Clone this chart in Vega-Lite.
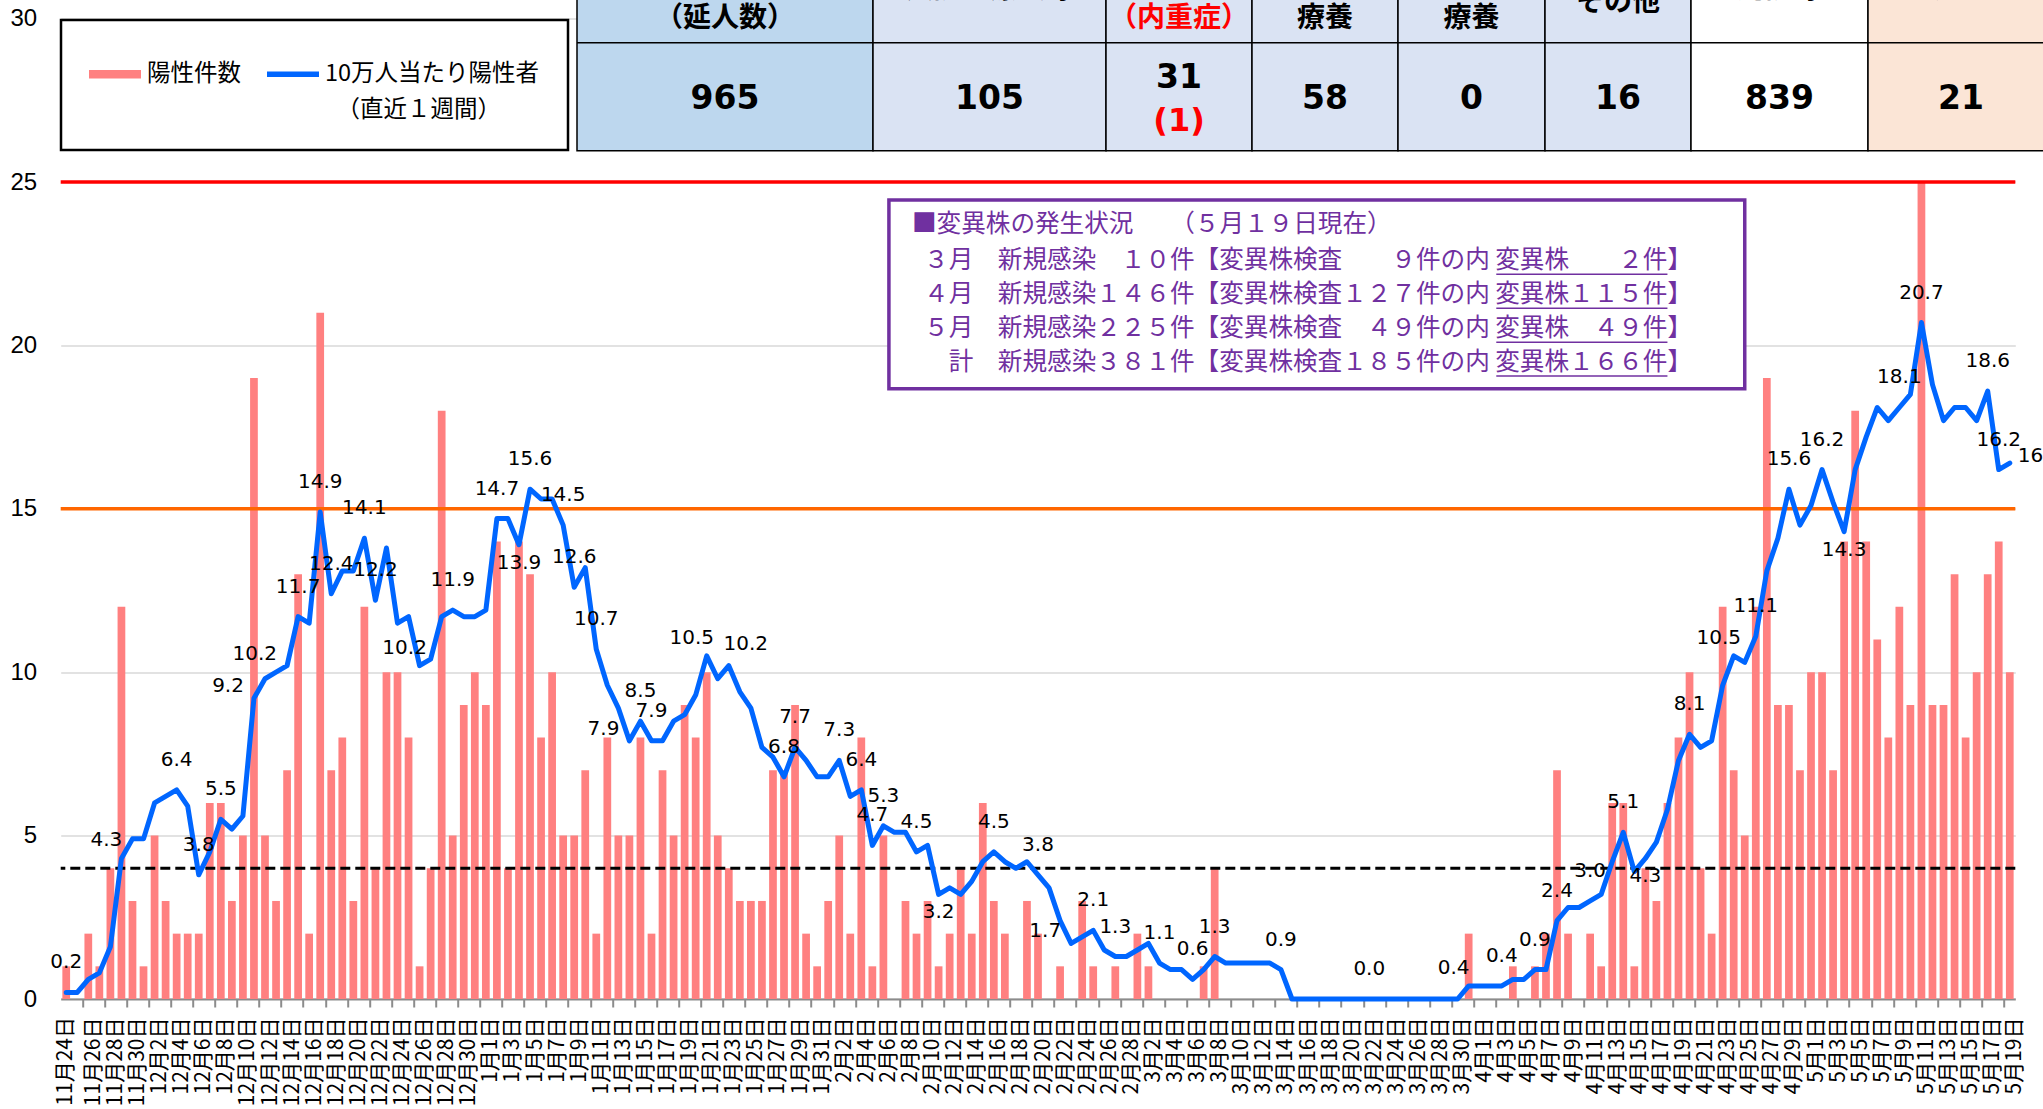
{
  "$schema": "https://vega.github.io/schema/vega-lite/v6.json",
  "width": 1954.6,
  "height": 980.4,
  "autosize": {"type": "none"},
  "padding": {"left": 60.7, "top": 18.6, "right": 27.7, "bottom": 110},
  "background": "white",
  "config": {"view": {"stroke": null}},
  "datasets": {
    "daily": [
      {"date": "11月24日", "positives": 1, "per100k": 0.2, "label": "0.2"},
      {"date": "11月25日", "positives": 0, "per100k": 0.2},
      {"date": "11月26日", "positives": 2, "per100k": 0.6},
      {"date": "11月27日", "positives": 1, "per100k": 0.8},
      {"date": "11月28日", "positives": 4, "per100k": 1.6},
      {"date": "11月29日", "positives": 12, "per100k": 4.3, "label": "4.3"},
      {"date": "11月30日", "positives": 3, "per100k": 4.9},
      {"date": "12月1日", "positives": 1, "per100k": 4.9},
      {"date": "12月2日", "positives": 5, "per100k": 6.0},
      {"date": "12月3日", "positives": 3, "per100k": 6.2},
      {"date": "12月4日", "positives": 2, "per100k": 6.4, "label": "6.4"},
      {"date": "12月5日", "positives": 2, "per100k": 5.9},
      {"date": "12月6日", "positives": 2, "per100k": 3.8, "label": "3.8"},
      {"date": "12月7日", "positives": 6, "per100k": 4.5},
      {"date": "12月8日", "positives": 6, "per100k": 5.5, "label": "5.5"},
      {"date": "12月9日", "positives": 3, "per100k": 5.2},
      {"date": "12月10日", "positives": 5, "per100k": 5.6},
      {"date": "12月11日", "positives": 19, "per100k": 9.2, "label": "9.2"},
      {"date": "12月12日", "positives": 5, "per100k": 9.8},
      {"date": "12月13日", "positives": 3, "per100k": 10.0},
      {"date": "12月14日", "positives": 7, "per100k": 10.2, "label": "10.2"},
      {"date": "12月15日", "positives": 13, "per100k": 11.7, "label": "11.7"},
      {"date": "12月16日", "positives": 2, "per100k": 11.5},
      {"date": "12月17日", "positives": 21, "per100k": 14.9, "label": "14.9"},
      {"date": "12月18日", "positives": 7, "per100k": 12.4, "label": "12.4"},
      {"date": "12月19日", "positives": 8, "per100k": 13.1},
      {"date": "12月20日", "positives": 3, "per100k": 13.1},
      {"date": "12月21日", "positives": 12, "per100k": 14.1, "label": "14.1"},
      {"date": "12月22日", "positives": 4, "per100k": 12.2, "label": "12.2"},
      {"date": "12月23日", "positives": 10, "per100k": 13.8},
      {"date": "12月24日", "positives": 10, "per100k": 11.5},
      {"date": "12月25日", "positives": 8, "per100k": 11.7},
      {"date": "12月26日", "positives": 1, "per100k": 10.2, "label": "10.2"},
      {"date": "12月27日", "positives": 4, "per100k": 10.4},
      {"date": "12月28日", "positives": 18, "per100k": 11.7},
      {"date": "12月29日", "positives": 5, "per100k": 11.9, "label": "11.9"},
      {"date": "12月30日", "positives": 9, "per100k": 11.7},
      {"date": "12月31日", "positives": 10, "per100k": 11.7},
      {"date": "1月1日", "positives": 9, "per100k": 11.9},
      {"date": "1月2日", "positives": 14, "per100k": 14.7, "label": "14.7"},
      {"date": "1月3日", "positives": 4, "per100k": 14.7},
      {"date": "1月4日", "positives": 14, "per100k": 13.9, "label": "13.9"},
      {"date": "1月5日", "positives": 13, "per100k": 15.6, "label": "15.6"},
      {"date": "1月6日", "positives": 8, "per100k": 15.3},
      {"date": "1月7日", "positives": 10, "per100k": 15.3},
      {"date": "1月8日", "positives": 5, "per100k": 14.5, "label": "14.5"},
      {"date": "1月9日", "positives": 5, "per100k": 12.6, "label": "12.6"},
      {"date": "1月10日", "positives": 7, "per100k": 13.2},
      {"date": "1月11日", "positives": 2, "per100k": 10.7, "label": "10.7"},
      {"date": "1月12日", "positives": 8, "per100k": 9.6},
      {"date": "1月13日", "positives": 5, "per100k": 8.9},
      {"date": "1月14日", "positives": 5, "per100k": 7.9, "label": "7.9"},
      {"date": "1月15日", "positives": 8, "per100k": 8.5, "label": "8.5"},
      {"date": "1月16日", "positives": 2, "per100k": 7.9, "label": "7.9"},
      {"date": "1月17日", "positives": 7, "per100k": 7.9},
      {"date": "1月18日", "positives": 5, "per100k": 8.5},
      {"date": "1月19日", "positives": 9, "per100k": 8.7},
      {"date": "1月20日", "positives": 8, "per100k": 9.3},
      {"date": "1月21日", "positives": 10, "per100k": 10.5, "label": "10.5"},
      {"date": "1月22日", "positives": 5, "per100k": 9.8},
      {"date": "1月23日", "positives": 4, "per100k": 10.2, "label": "10.2"},
      {"date": "1月24日", "positives": 3, "per100k": 9.4},
      {"date": "1月25日", "positives": 3, "per100k": 8.9},
      {"date": "1月26日", "positives": 3, "per100k": 7.7},
      {"date": "1月27日", "positives": 7, "per100k": 7.4},
      {"date": "1月28日", "positives": 7, "per100k": 6.8, "label": "6.8"},
      {"date": "1月29日", "positives": 9, "per100k": 7.7, "label": "7.7"},
      {"date": "1月30日", "positives": 2, "per100k": 7.3},
      {"date": "1月31日", "positives": 1, "per100k": 6.8},
      {"date": "2月1日", "positives": 3, "per100k": 6.8},
      {"date": "2月2日", "positives": 5, "per100k": 7.3, "label": "7.3"},
      {"date": "2月3日", "positives": 2, "per100k": 6.2},
      {"date": "2月4日", "positives": 8, "per100k": 6.4, "label": "6.4"},
      {"date": "2月5日", "positives": 1, "per100k": 4.7, "label": "4.7"},
      {"date": "2月6日", "positives": 5, "per100k": 5.3, "label": "5.3"},
      {"date": "2月7日", "positives": 0, "per100k": 5.1},
      {"date": "2月8日", "positives": 3, "per100k": 5.1},
      {"date": "2月9日", "positives": 2, "per100k": 4.5, "label": "4.5"},
      {"date": "2月10日", "positives": 3, "per100k": 4.7},
      {"date": "2月11日", "positives": 1, "per100k": 3.2, "label": "3.2"},
      {"date": "2月12日", "positives": 2, "per100k": 3.4},
      {"date": "2月13日", "positives": 4, "per100k": 3.2},
      {"date": "2月14日", "positives": 2, "per100k": 3.6},
      {"date": "2月15日", "positives": 6, "per100k": 4.2},
      {"date": "2月16日", "positives": 3, "per100k": 4.5, "label": "4.5"},
      {"date": "2月17日", "positives": 2, "per100k": 4.2},
      {"date": "2月18日", "positives": 0, "per100k": 4.0},
      {"date": "2月19日", "positives": 3, "per100k": 4.2},
      {"date": "2月20日", "positives": 2, "per100k": 3.8, "label": "3.8"},
      {"date": "2月21日", "positives": 0, "per100k": 3.4},
      {"date": "2月22日", "positives": 1, "per100k": 2.4},
      {"date": "2月23日", "positives": 0, "per100k": 1.7, "label": "1.7"},
      {"date": "2月24日", "positives": 3, "per100k": 1.9},
      {"date": "2月25日", "positives": 1, "per100k": 2.1, "label": "2.1"},
      {"date": "2月26日", "positives": 0, "per100k": 1.5},
      {"date": "2月27日", "positives": 1, "per100k": 1.3, "label": "1.3"},
      {"date": "2月28日", "positives": 0, "per100k": 1.3},
      {"date": "3月1日", "positives": 2, "per100k": 1.5},
      {"date": "3月2日", "positives": 1, "per100k": 1.7},
      {"date": "3月3日", "positives": 0, "per100k": 1.1, "label": "1.1"},
      {"date": "3月4日", "positives": 0, "per100k": 0.9},
      {"date": "3月5日", "positives": 0, "per100k": 0.9},
      {"date": "3月6日", "positives": 0, "per100k": 0.6, "label": "0.6"},
      {"date": "3月7日", "positives": 1, "per100k": 0.9},
      {"date": "3月8日", "positives": 4, "per100k": 1.3, "label": "1.3"},
      {"date": "3月9日", "positives": 0, "per100k": 1.1},
      {"date": "3月10日", "positives": 0, "per100k": 1.1},
      {"date": "3月11日", "positives": 0, "per100k": 1.1},
      {"date": "3月12日", "positives": 0, "per100k": 1.1},
      {"date": "3月13日", "positives": 0, "per100k": 1.1},
      {"date": "3月14日", "positives": 0, "per100k": 0.9, "label": "0.9"},
      {"date": "3月15日", "positives": 0, "per100k": 0.0},
      {"date": "3月16日", "positives": 0, "per100k": 0.0},
      {"date": "3月17日", "positives": 0, "per100k": 0.0},
      {"date": "3月18日", "positives": 0, "per100k": 0.0},
      {"date": "3月19日", "positives": 0, "per100k": 0.0},
      {"date": "3月20日", "positives": 0, "per100k": 0.0},
      {"date": "3月21日", "positives": 0, "per100k": 0.0},
      {"date": "3月22日", "positives": 0, "per100k": 0.0, "label": "0.0"},
      {"date": "3月23日", "positives": 0, "per100k": 0.0},
      {"date": "3月24日", "positives": 0, "per100k": 0.0},
      {"date": "3月25日", "positives": 0, "per100k": 0.0},
      {"date": "3月26日", "positives": 0, "per100k": 0.0},
      {"date": "3月27日", "positives": 0, "per100k": 0.0},
      {"date": "3月28日", "positives": 0, "per100k": 0.0},
      {"date": "3月29日", "positives": 0, "per100k": 0.0},
      {"date": "3月30日", "positives": 0, "per100k": 0.0},
      {"date": "3月31日", "positives": 2, "per100k": 0.4, "label": "0.4"},
      {"date": "4月1日", "positives": 0, "per100k": 0.4},
      {"date": "4月2日", "positives": 0, "per100k": 0.4},
      {"date": "4月3日", "positives": 0, "per100k": 0.4, "label": "0.4"},
      {"date": "4月4日", "positives": 1, "per100k": 0.6},
      {"date": "4月5日", "positives": 0, "per100k": 0.6},
      {"date": "4月6日", "positives": 1, "per100k": 0.9, "label": "0.9"},
      {"date": "4月7日", "positives": 2, "per100k": 0.9},
      {"date": "4月8日", "positives": 7, "per100k": 2.4, "label": "2.4"},
      {"date": "4月9日", "positives": 2, "per100k": 2.8},
      {"date": "4月10日", "positives": 0, "per100k": 2.8},
      {"date": "4月11日", "positives": 2, "per100k": 3.0, "label": "3.0"},
      {"date": "4月12日", "positives": 1, "per100k": 3.2},
      {"date": "4月13日", "positives": 6, "per100k": 4.2},
      {"date": "4月14日", "positives": 6, "per100k": 5.1, "label": "5.1"},
      {"date": "4月15日", "positives": 1, "per100k": 3.9},
      {"date": "4月16日", "positives": 4, "per100k": 4.3, "label": "4.3"},
      {"date": "4月17日", "positives": 3, "per100k": 4.8},
      {"date": "4月18日", "positives": 6, "per100k": 5.8},
      {"date": "4月19日", "positives": 8, "per100k": 7.3},
      {"date": "4月20日", "positives": 10, "per100k": 8.1, "label": "8.1"},
      {"date": "4月21日", "positives": 4, "per100k": 7.7},
      {"date": "4月22日", "positives": 2, "per100k": 7.9},
      {"date": "4月23日", "positives": 12, "per100k": 9.6},
      {"date": "4月24日", "positives": 7, "per100k": 10.5, "label": "10.5"},
      {"date": "4月25日", "positives": 5, "per100k": 10.3},
      {"date": "4月26日", "positives": 12, "per100k": 11.1, "label": "11.1"},
      {"date": "4月27日", "positives": 19, "per100k": 13.1},
      {"date": "4月28日", "positives": 9, "per100k": 14.1},
      {"date": "4月29日", "positives": 9, "per100k": 15.6, "label": "15.6"},
      {"date": "4月30日", "positives": 7, "per100k": 14.5},
      {"date": "5月1日", "positives": 10, "per100k": 15.1},
      {"date": "5月2日", "positives": 10, "per100k": 16.2, "label": "16.2"},
      {"date": "5月3日", "positives": 7, "per100k": 15.2},
      {"date": "5月4日", "positives": 14, "per100k": 14.3, "label": "14.3"},
      {"date": "5月5日", "positives": 18, "per100k": 16.2},
      {"date": "5月6日", "positives": 14, "per100k": 17.2},
      {"date": "5月7日", "positives": 11, "per100k": 18.1},
      {"date": "5月8日", "positives": 8, "per100k": 17.7},
      {"date": "5月9日", "positives": 12, "per100k": 18.1, "label": "18.1"},
      {"date": "5月10日", "positives": 9, "per100k": 18.5},
      {"date": "5月11日", "positives": 25, "per100k": 20.7, "label": "20.7"},
      {"date": "5月12日", "positives": 9, "per100k": 18.8},
      {"date": "5月13日", "positives": 9, "per100k": 17.7},
      {"date": "5月14日", "positives": 13, "per100k": 18.1},
      {"date": "5月15日", "positives": 8, "per100k": 18.1},
      {"date": "5月16日", "positives": 10, "per100k": 17.7},
      {"date": "5月17日", "positives": 13, "per100k": 18.6, "label": "18.6"},
      {"date": "5月18日", "positives": 14, "per100k": 16.2, "label": "16.2"},
      {"date": "5月19日", "positives": 10, "per100k": 16.4, "label": "16.4"}
    ],
    "table": [
      {"c": 0, "c1": 1, "head1": "陽性者数", "head2": "（延人数）", "value": "965"},
      {"c": 1, "c1": 2, "head1": "入院・療養等", "value": "105"},
      {"c": 2, "c1": 3, "head1": "入院中", "head2": "（内重症）", "value": "31", "sub": "(1)"},
      {"c": 3, "c1": 4, "head1": "宿泊", "head2": "療養", "value": "58"},
      {"c": 4, "c1": 5, "head1": "自宅", "head2": "療養", "value": "0"},
      {"c": 5, "c1": 6, "head1": "その他", "value": "16"},
      {"c": 6, "c1": 7, "head1": "退院等", "value": "839"},
      {"c": 7, "c1": 8, "head1": "死亡", "value": "21"}
    ]
  },
  "layer": [
    {
      "data": {"name": "daily"},
      "layer": [
        {
          "mark": {"type": "bar", "width": {"band": 0.7}},
          "encoding": {
            "x": {
              "field": "date", "type": "ordinal",
              "scale": {
                "type": "band", "paddingInner": 0, "paddingOuter": 0,
                "domain": ["11月24日","11月25日","11月26日","11月27日","11月28日","11月29日","11月30日","12月1日","12月2日","12月3日","12月4日","12月5日","12月6日","12月7日","12月8日","12月9日","12月10日","12月11日","12月12日","12月13日","12月14日","12月15日","12月16日","12月17日","12月18日","12月19日","12月20日","12月21日","12月22日","12月23日","12月24日","12月25日","12月26日","12月27日","12月28日","12月29日","12月30日","12月31日","1月1日","1月2日","1月3日","1月4日","1月5日","1月6日","1月7日","1月8日","1月9日","1月10日","1月11日","1月12日","1月13日","1月14日","1月15日","1月16日","1月17日","1月18日","1月19日","1月20日","1月21日","1月22日","1月23日","1月24日","1月25日","1月26日","1月27日","1月28日","1月29日","1月30日","1月31日","2月1日","2月2日","2月3日","2月4日","2月5日","2月6日","2月7日","2月8日","2月9日","2月10日","2月11日","2月12日","2月13日","2月14日","2月15日","2月16日","2月17日","2月18日","2月19日","2月20日","2月21日","2月22日","2月23日","2月24日","2月25日","2月26日","2月27日","2月28日","3月1日","3月2日","3月3日","3月4日","3月5日","3月6日","3月7日","3月8日","3月9日","3月10日","3月11日","3月12日","3月13日","3月14日","3月15日","3月16日","3月17日","3月18日","3月19日","3月20日","3月21日","3月22日","3月23日","3月24日","3月25日","3月26日","3月27日","3月28日","3月29日","3月30日","3月31日","4月1日","4月2日","4月3日","4月4日","4月5日","4月6日","4月7日","4月8日","4月9日","4月10日","4月11日","4月12日","4月13日","4月14日","4月15日","4月16日","4月17日","4月18日","4月19日","4月20日","4月21日","4月22日","4月23日","4月24日","4月25日","4月26日","4月27日","4月28日","4月29日","4月30日","5月1日","5月2日","5月3日","5月4日","5月5日","5月6日","5月7日","5月8日","5月9日","5月10日","5月11日","5月12日","5月13日","5月14日","5月15日","5月16日","5月17日","5月18日","5月19日"]
              },
              "axis": {
                "title": null,
                "values": ["11月24日","11月26日","11月28日","11月30日","12月2日","12月4日","12月6日","12月8日","12月10日","12月12日","12月14日","12月16日","12月18日","12月20日","12月22日","12月24日","12月26日","12月28日","12月30日","1月1日","1月3日","1月5日","1月7日","1月9日","1月11日","1月13日","1月15日","1月17日","1月19日","1月21日","1月23日","1月25日","1月27日","1月29日","1月31日","2月2日","2月4日","2月6日","2月8日","2月10日","2月12日","2月14日","2月16日","2月18日","2月20日","2月22日","2月24日","2月26日","2月28日","3月2日","3月4日","3月6日","3月8日","3月10日","3月12日","3月14日","3月16日","3月18日","3月20日","3月22日","3月24日","3月26日","3月28日","3月30日","4月1日","4月3日","4月5日","4月7日","4月9日","4月11日","4月13日","4月15日","4月17日","4月19日","4月21日","4月23日","4月25日","4月27日","4月29日","5月1日","5月3日","5月5日","5月7日","5月9日","5月11日","5月13日","5月15日","5月17日","5月19日"],
                "labelAngle": -90,
                "labelFont": "Noto Sans CJK JP",
                "labelFontSize": 21,
                "labelColor": "#000000",
                "labelPadding": 10,
                "labelOverlap": false,
                "labelBound": false,
                "labelFlush": false,
                "bandPosition": 0,
                "tickExtra": false,
                "labelOffset": 5.52,
                "tickColor": "#8c8c8c",
                "tickSize": 8,
                "tickWidth": 2,
                "domainColor": "#8c8c8c",
                "domainWidth": 2,
                "grid": false
              }
            },
            "y": {
              "field": "positives", "type": "quantitative",
              "scale": {"domain": [0, 30], "nice": false},
              "axis": {
                "title": null,
                "values": [0, 5, 10, 15, 20, 25, 30],
                "domain": false,
                "ticks": false,
                "labelFont": "Liberation Sans",
                "labelFontSize": 24,
                "labelColor": "#000000",
                "labelPadding": 24,
                "gridColor": "#d9d9d9",
                "gridWidth": 1.5
              }
            },
            "color": {
              "datum": "陽性件数",
              "scale": {"domain": ["陽性件数", "10万人当たり陽性者"], "range": ["#FF8080", "#0066FF"]},
              "legend": {
                "orient": "none",
                "legendX": 0.3,
                "legendY": 1.4,
                "direction": "horizontal",
                "title": "（直近１週間）",
                "titleOrient": "bottom",
                "titleAnchor": "end",
                "titleBaseline": "top",
                "titleFont": "Noto Sans CJK JP",
                "titleFontSize": 23.5,
                "titleFontWeight": "normal",
                "titleColor": "#000000",
                "titlePadding": 12,
                "symbolType": "M-1,-0.16H1V0.16H-1Z",
                "symbolSize": 2704,
                "symbolStrokeWidth": 0,
                "labelFont": "Noto Sans CJK JP",
                "labelFontSize": 23.5,
                "labelColor": "#000000",
                "labelOffset": 6,
                "labelLimit": 400,
                "columnPadding": 26,
                "padding": 28,
                "strokeColor": "#000000",
                "fillColor": "#ffffff",
                "encode": {
                  "legend": {"update": {"strokeWidth": {"value": 2.5}}},
                  "symbols": {"update": {
                    "fill": {"scale": "color", "field": "value"},
                    "stroke": {"value": "transparent"},
                    "opacity": {"value": 1},
                    "shape": {"signal": "datum.value === '陽性件数' ? 'M-1,-0.16H1V0.16H-1Z' : 'M-1,-0.11H1V0.11H-1Z'"}
                  }},
                  "title": {"update": {"dx": {"value": -38}}}
                }
              }
            }
          }
        },
        {
          "transform": [{"filter": {"field": "date", "equal": "11月24日"}}],
          "mark": {"type": "text", "angle": -90, "align": "right", "baseline": "middle", "font": "Noto Sans CJK JP", "fontSize": 21, "color": "#000000"},
          "encoding": {
            "x": {"field": "date", "type": "ordinal"},
            "y": {"datum": -0.551, "type": "quantitative"},
            "text": {"field": "date", "type": "nominal"}
          }
        },
        {
          "data": {"values": [{}]},
          "mark": {"type": "rule", "color": "#FF0000", "strokeWidth": 3.5},
          "encoding": {"y": {"datum": 25, "type": "quantitative"}}
        },
        {
          "data": {"values": [{}]},
          "mark": {"type": "rule", "color": "#FF6600", "strokeWidth": 3.5},
          "encoding": {"y": {"datum": 15, "type": "quantitative"}}
        },
        {
          "data": {"values": [{}]},
          "mark": {"type": "rule", "color": "#000000", "strokeWidth": 3, "strokeDash": [10, 5]},
          "encoding": {"y": {"datum": 4, "type": "quantitative"}}
        },
        {
          "mark": {"type": "line", "strokeWidth": 5, "strokeJoin": "round", "strokeCap": "round"},
          "encoding": {
            "x": {"field": "date", "type": "ordinal"},
            "y": {"field": "per100k", "type": "quantitative"},
            "color": {"datum": "10万人当たり陽性者"}
          }
        },
        {
          "transform": [{"filter": {"and": [{"field": "label", "valid": true}, {"not": {"field": "date", "oneOf": ["12月11日", "12月14日", "1月14日", "2月23日", "11月29日", "1月21日", "4月24日", "12月26日", "3月31日", "1月23日", "1月4日", "2月11日", "4月16日", "5月4日", "5月19日"]}}]}}],
          "mark": {"type": "text", "font": "DejaVu Sans", "fontSize": 20, "color": "#000000", "baseline": "middle", "dy": -30},
          "encoding": {
            "x": {"field": "date", "type": "ordinal"},
            "y": {"field": "per100k", "type": "quantitative"},
            "text": {"field": "label", "type": "nominal"}
          }
        },
        {
          "transform": [{"filter": {"field": "date", "oneOf": ["12月11日", "12月14日", "1月14日", "2月23日"]}}],
          "mark": {"type": "text", "font": "DejaVu Sans", "fontSize": 20, "color": "#000000", "baseline": "middle", "align": "right", "dx": -10, "dy": -12},
          "encoding": {
            "x": {"field": "date", "type": "ordinal"},
            "y": {"field": "per100k", "type": "quantitative"},
            "text": {"field": "label", "type": "nominal"}
          }
        },
        {
          "transform": [{"filter": {"field": "date", "oneOf": ["11月29日", "1月21日", "4月24日", "12月26日", "3月31日"]}}],
          "mark": {"type": "text", "font": "DejaVu Sans", "fontSize": 20, "color": "#000000", "baseline": "middle", "dx": -15, "dy": -18},
          "encoding": {
            "x": {"field": "date", "type": "ordinal"},
            "y": {"field": "per100k", "type": "quantitative"},
            "text": {"field": "label", "type": "nominal"}
          }
        },
        {
          "transform": [{"filter": {"field": "date", "oneOf": ["1月23日"]}}],
          "mark": {"type": "text", "font": "DejaVu Sans", "fontSize": 20, "color": "#000000", "baseline": "middle", "dx": 17, "dy": -22},
          "encoding": {
            "x": {"field": "date", "type": "ordinal"},
            "y": {"field": "per100k", "type": "quantitative"},
            "text": {"field": "label", "type": "nominal"}
          }
        },
        {
          "transform": [{"filter": {"field": "date", "oneOf": ["1月4日", "2月11日", "4月16日", "5月4日"]}}],
          "mark": {"type": "text", "font": "DejaVu Sans", "fontSize": 20, "color": "#000000", "baseline": "middle", "dy": 18},
          "encoding": {
            "x": {"field": "date", "type": "ordinal"},
            "y": {"field": "per100k", "type": "quantitative"},
            "text": {"field": "label", "type": "nominal"}
          }
        },
        {
          "transform": [{"filter": {"field": "date", "oneOf": ["5月19日"]}}],
          "mark": {"type": "text", "font": "DejaVu Sans", "fontSize": 20, "color": "#000000", "baseline": "middle", "align": "left", "dx": 8, "dy": -7},
          "encoding": {
            "x": {"field": "date", "type": "ordinal"},
            "y": {"field": "per100k", "type": "quantitative"},
            "text": {"field": "label", "type": "nominal"}
          }
        },
        {
          "data": {"values": [{}]},
          "mark": {"type": "rect", "fill": "#ffffff", "stroke": "#7030A0", "strokeWidth": 3.5},
          "encoding": {
            "x": {"datum": "2月7日", "type": "ordinal", "bandPosition": 0},
            "x2": {"datum": "4月25日"},
            "y": {"datum": 24.45, "type": "quantitative"},
            "y2": {"datum": 18.67}
          }
        },
        {
          "data": {"values": [{}]},
          "mark": {
            "type": "text",
            "text": "■変異株の発生状況　　（５月１９日現在）",
            "font": "Noto Sans CJK JP",
            "fontSize": 24.6,
            "color": "#7030A0",
            "align": "left",
            "baseline": "middle",
            "dx": 1
          },
          "encoding": {
            "x": {"datum": "2月9日", "type": "ordinal", "bandPosition": 0},
            "y": {"datum": 23.68, "type": "quantitative"}
          }
        },
        {
          "data": {"values": [{}]},
          "mark": {
            "type": "text",
            "text": [
              "３月　新規感染　１０件【変異株検査　　９件の内 変異株　　２件】",
              "４月　新規感染１４６件【変異株検査１２７件の内 変異株１１５件】",
              "５月　新規感染２２５件【変異株検査　４９件の内 変異株　４９件】",
              "計　新規感染３８１件【変異株検査１８５件の内 変異株１６６件】"
            ],
            "font": "Noto Sans CJK JP",
            "fontSize": 24.6,
            "lineHeight": 34,
            "color": "#7030A0",
            "align": "right",
            "baseline": "middle",
            "dx": 8
          },
          "encoding": {
            "x": {"datum": "4月20日", "type": "ordinal", "bandPosition": 0},
            "y": {"datum": 22.58, "type": "quantitative"}
          }
        },
        {
          "data": {"values": [{}]},
          "mark": {"type": "rule", "color": "#7030A0", "strokeWidth": 1.5},
          "encoding": {
            "x": {"datum": "4月3日", "type": "ordinal", "bandPosition": 0},
            "x2": {"datum": "4月18日"},
            "y": {"datum": 22.18, "type": "quantitative"}
          }
        },
        {
          "data": {"values": [{}]},
          "mark": {"type": "rule", "color": "#7030A0", "strokeWidth": 1.5},
          "encoding": {
            "x": {"datum": "4月3日", "type": "ordinal", "bandPosition": 0},
            "x2": {"datum": "4月18日"},
            "y": {"datum": 21.14, "type": "quantitative"}
          }
        },
        {
          "data": {"values": [{}]},
          "mark": {"type": "rule", "color": "#7030A0", "strokeWidth": 1.5},
          "encoding": {
            "x": {"datum": "4月3日", "type": "ordinal", "bandPosition": 0},
            "x2": {"datum": "4月18日"},
            "y": {"datum": 20.10, "type": "quantitative"}
          }
        },
        {
          "data": {"values": [{}]},
          "mark": {"type": "rule", "color": "#7030A0", "strokeWidth": 1.5},
          "encoding": {
            "x": {"datum": "4月3日", "type": "ordinal", "bandPosition": 0},
            "x2": {"datum": "4月18日"},
            "y": {"datum": 19.06, "type": "quantitative"}
          }
        }
      ]
    },
    {
      "data": {"name": "table"},
      "layer": [
        {
          "mark": {"type": "rect", "stroke": "#000000", "strokeWidth": 1.5},
          "encoding": {
            "x": {"field": "c", "type": "quantitative", "scale": {"domain": [0, 1, 2, 3, 4, 5, 6, 7, 8], "range": [516.3, 812.3, 1045.3, 1191.3, 1337.3, 1484.3, 1630.3, 1807.3, 1993.3], "nice": false, "zero": false}, "axis": null},
            "x2": {"field": "c1"},
            "y": {"datum": 31.8, "type": "quantitative"},
            "y2": {"datum": 25.96},
            "fill": {"field": "c", "type": "nominal", "scale": {"domain": [0, 1, 2, 3, 4, 5, 6, 7], "range": ["#BDD7EE", "#DAE3F3", "#DAE3F3", "#DAE3F3", "#DAE3F3", "#DAE3F3", "#FFFFFF", "#FBE5D6"]}, "legend": null}
          }
        },
        {
          "data": {"values": [{}]},
          "mark": {"type": "rule", "color": "#000000", "strokeWidth": 1.5},
          "encoding": {
            "x": {"datum": 0, "type": "quantitative", "axis": null},
            "x2": {"datum": 8},
            "y": {"datum": 29.26, "type": "quantitative"}
          }
        }
      ]
    },
    {
      "data": {"name": "table"},
      "layer": [
        {
          "transform": [{"filter": "isValid(datum.head2)"}],
          "mark": {"type": "text", "font": "Noto Sans CJK JP", "fontSize": 28, "fontWeight": "bold", "color": "#000000", "baseline": "middle", "dy": -36},
          "encoding": {
            "x": {"field": "c", "type": "quantitative", "scale": {"domain": [-0.5, 0.5, 1.5, 2.5, 3.5, 4.5, 5.5, 6.5, 7.5], "range": [516.3, 812.3, 1045.3, 1191.3, 1337.3, 1484.3, 1630.3, 1807.3, 1993.3], "nice": false, "zero": false}, "axis": null},
            "y": {"datum": 29.99, "type": "quantitative"},
            "text": {"field": "head1", "type": "nominal"}
          }
        },
        {
          "transform": [{"filter": "isValid(datum.head2) && datum.c !== 2"}],
          "mark": {"type": "text", "font": "Noto Sans CJK JP", "fontSize": 28, "fontWeight": "bold", "color": "#000000", "baseline": "middle"},
          "encoding": {
            "x": {"field": "c", "type": "quantitative"},
            "y": {"datum": 29.99, "type": "quantitative"},
            "text": {"field": "head2", "type": "nominal"}
          }
        },
        {
          "transform": [{"filter": "datum.c === 2"}],
          "mark": {"type": "text", "font": "Noto Sans CJK JP", "fontSize": 28, "fontWeight": "bold", "color": "#FF0000", "baseline": "middle"},
          "encoding": {
            "x": {"field": "c", "type": "quantitative"},
            "y": {"datum": 29.99, "type": "quantitative"},
            "text": {"field": "head2", "type": "nominal"}
          }
        },
        {
          "transform": [{"filter": "datum.c === 5"}],
          "mark": {"type": "text", "font": "Noto Sans CJK JP", "fontSize": 28, "fontWeight": "bold", "color": "#000000", "baseline": "middle"},
          "encoding": {
            "x": {"field": "c", "type": "quantitative"},
            "y": {"datum": 30.48, "type": "quantitative"},
            "text": {"field": "head1", "type": "nominal"}
          }
        },
        {
          "transform": [{"filter": "!isValid(datum.head2) && datum.c !== 5"}],
          "mark": {"type": "text", "font": "Noto Sans CJK JP", "fontSize": 28, "fontWeight": "bold", "color": "#000000", "baseline": "middle"},
          "encoding": {
            "x": {"field": "c", "type": "quantitative"},
            "y": {"datum": 30.87, "type": "quantitative"},
            "text": {"field": "head1", "type": "nominal"}
          }
        },
        {
          "transform": [{"filter": "!isValid(datum.sub)"}],
          "mark": {"type": "text", "font": "DejaVu Sans", "fontSize": 33, "fontWeight": "bold", "color": "#000000", "baseline": "middle"},
          "encoding": {
            "x": {"field": "c", "type": "quantitative"},
            "y": {"datum": 27.54, "type": "quantitative"},
            "text": {"field": "value", "type": "nominal"}
          }
        },
        {
          "transform": [{"filter": "isValid(datum.sub)"}],
          "mark": {"type": "text", "font": "DejaVu Sans", "fontSize": 33, "fontWeight": "bold", "color": "#000000", "baseline": "middle", "dy": -21},
          "encoding": {
            "x": {"field": "c", "type": "quantitative"},
            "y": {"datum": 27.54, "type": "quantitative"},
            "text": {"field": "value", "type": "nominal"}
          }
        },
        {
          "transform": [{"filter": "isValid(datum.sub)"}],
          "mark": {"type": "text", "font": "DejaVu Sans", "fontSize": 32, "fontWeight": "bold", "color": "#FF0000", "baseline": "middle", "dy": 22},
          "encoding": {
            "x": {"field": "c", "type": "quantitative"},
            "y": {"datum": 27.54, "type": "quantitative"},
            "text": {"field": "sub", "type": "nominal"}
          }
        }
      ]
    }
  ],
  "resolve": {"scale": {"x": "independent"}}
}
